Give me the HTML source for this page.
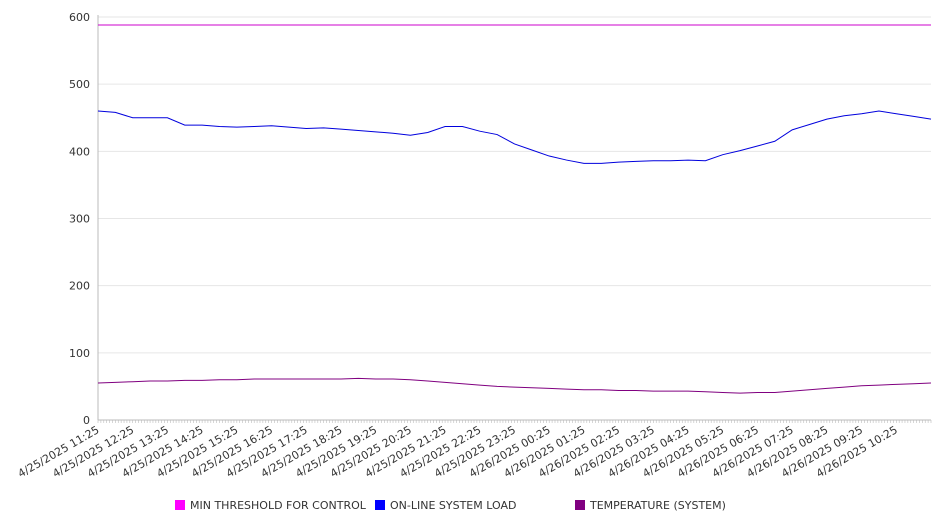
<!DOCTYPE html>
<html><head><meta charset="utf-8"><style>
body{margin:0;background:#fff;font-family:"DejaVu Sans","Liberation Sans",sans-serif}
svg text{font-family:"DejaVu Sans","Liberation Sans",sans-serif;fill:#333}
</style></head><body>
<svg id="chart" width="946" height="526" xmlns="http://www.w3.org/2000/svg"></svg>
<script>
const hourLabels=["4/25/2025 11:25","4/25/2025 12:25","4/25/2025 13:25","4/25/2025 14:25","4/25/2025 15:25","4/25/2025 16:25","4/25/2025 17:25","4/25/2025 18:25","4/25/2025 19:25","4/25/2025 20:25","4/25/2025 21:25","4/25/2025 22:25","4/25/2025 23:25","4/26/2025 00:25","4/26/2025 01:25","4/26/2025 02:25","4/26/2025 03:25","4/26/2025 04:25","4/26/2025 05:25","4/26/2025 06:25","4/26/2025 07:25","4/26/2025 08:25","4/26/2025 09:25","4/26/2025 10:25"];
const yTicks=[0,100,200,300,400,500,600];
const loadValues=[460,458,450,450,450,439,439,437,436,437,438,436,434,435,433,431,429,427,424,428,437,437,430,425,411,402,393,387,382,382,384,385,386,386,387,386,395,401,408,415,432,440,448,453,456,460,456,452,448];
const tempValues=[55,56,57,58,58,59,59,60,60,61,61,61,61,61,61,62,61,61,60,58,56,54,52,50,49,48,47,46,45,45,44,44,43,43,43,42,41,40,41,41,43,45,47,49,51,52,53,54,55];
const thresholdValue=588;
const NS="http://www.w3.org/2000/svg";
const svg=document.getElementById('chart');
const X0=98,X1=931,Y0=420,Y1=17;
const xs=i=>X0+i*(X1-X0)/(loadValues.length-1);
const ys=v=>Y0-(v/600)*(Y0-Y1);
function mk(t,a){const e=document.createElementNS(NS,t);for(const k in a)e.setAttribute(k,a[k]);svg.appendChild(e);return e;}
yTicks.forEach(v=>{
  const g=mk('line',{x1:X0,x2:X1,y1:ys(v),y2:ys(v),stroke:v===0?'#bbb':'#e6e6e6','stroke-width':1});
  
  
  const t=mk('text',{x:90,y:ys(v)+4,'text-anchor':'end','font-size':11});
  t.textContent=v;
  
  
});
const ax=mk('line',{x1:X0,x2:X0,y1:Y1-2,y2:Y0,stroke:'#bbb'});


// minor ticks every 5 min
const nMinor=Math.round((loadValues.length-1)/2*12);
for(let k=0;k<=nMinor;k++){
  const x=X0+k*(X1-X0)/nMinor;
  const m=mk('line',{x1:x,x2:x,y1:Y0,y2:Y0+3,stroke:'#bbb','stroke-width':0.6});
  
  
}
hourLabels.forEach((l,i)=>{
  const x=xs(i*2);
  const t=mk('text',{x:x+2,y:Y0+12,'text-anchor':'end','font-size':11,transform:`rotate(-30 ${x+2} ${Y0+12})`});
  t.textContent=l;
  
  
});
const th=mk('line',{x1:X0,x2:X1,y1:ys(thresholdValue),y2:ys(thresholdValue),stroke:'#cc00cc','stroke-width':1});


function series(vals,color,name){
  const p=mk('polyline',{points:vals.map((v,i)=>xs(i)+','+ys(v)).join(' '),fill:'none',stroke:color,'stroke-width':1});
  
  
}
series(loadValues,'#0000dd','online-load-line');
series(tempValues,'#800080','temperature-line');
const legend=[["MIN THRESHOLD FOR CONTROL","#ff00ff",175],["ON-LINE SYSTEM LOAD","#0000ff",375],["TEMPERATURE (SYSTEM)","#800080",575]];
legend.forEach(([n,c,x])=>{
  const r=mk('rect',{x:x,y:500,width:10,height:10,fill:c});
  
  
  const t=mk('text',{x:x+15,y:509,'font-size':11});
  t.textContent=n;
  
  
});
</script>
</body></html>
